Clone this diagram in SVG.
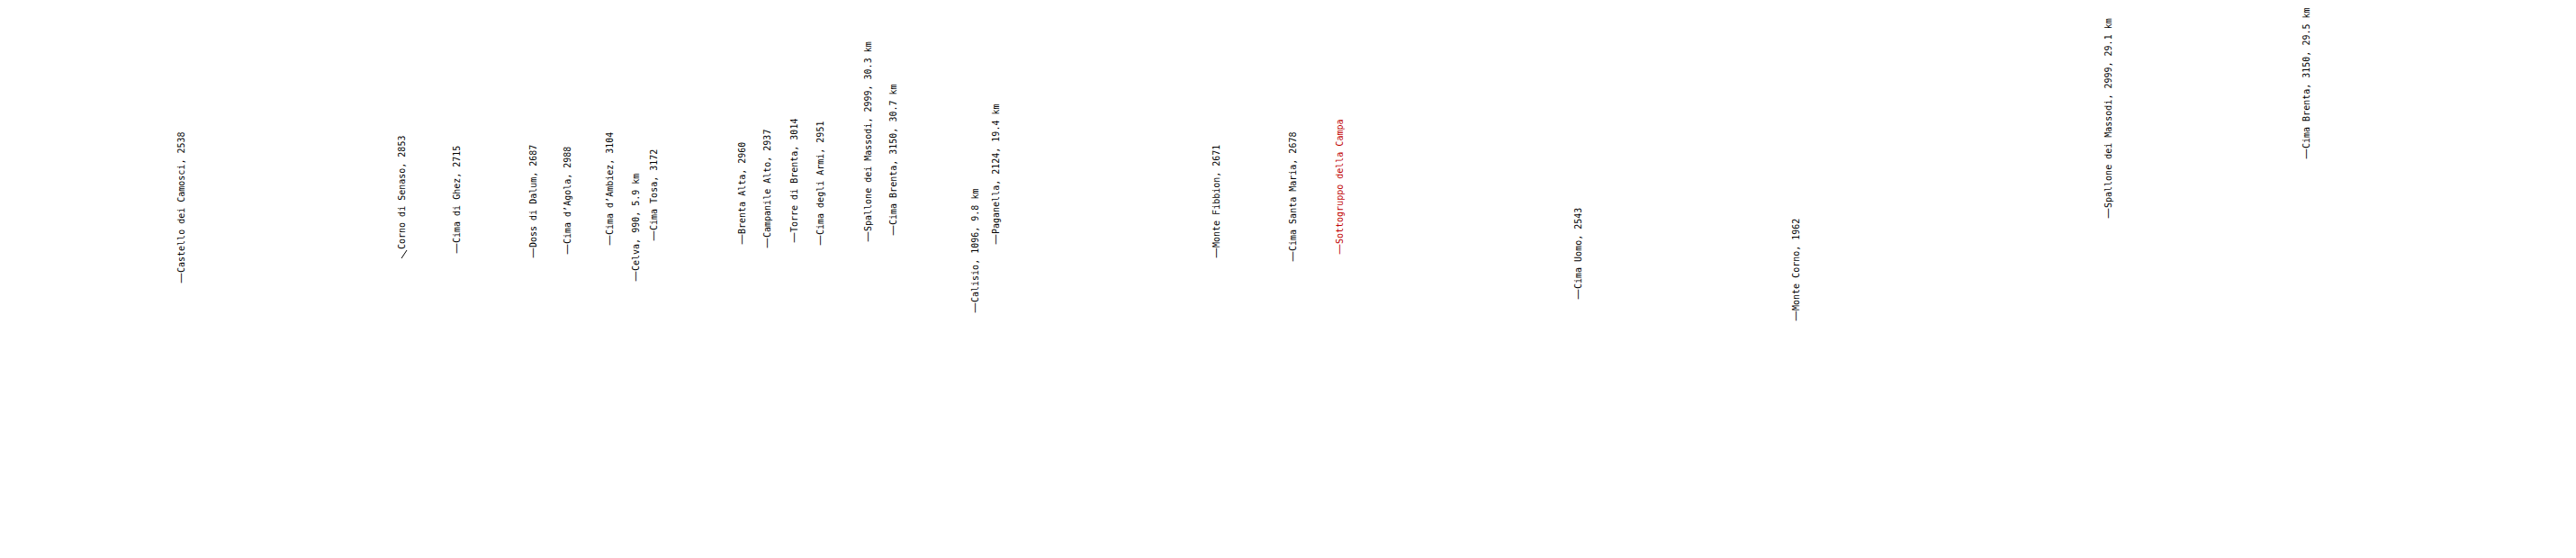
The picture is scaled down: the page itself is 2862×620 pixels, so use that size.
<svg xmlns="http://www.w3.org/2000/svg" width="2862" height="620" viewBox="0 0 2862 620">
<style>
text{font-family:"DejaVu Sans Mono","Liberation Mono",monospace;font-size:10px;fill:#000}
text.red{fill:#c00000}
tspan.d{font-family:"DejaVu Sans",sans-serif;font-size:12px}
</style>
<rect width="2862" height="620" fill="#fff"/>
<g id="castello"><text transform="translate(204.5,315) rotate(-90)"><tspan class="d">—</tspan>Castello dei Camosci, 2538</text></g>
<g id="corno-senaso"><line x1="446" y1="287" x2="452" y2="278" stroke="#000"/><text transform="translate(450,277) rotate(-90)">Corno di Senaso, 2853</text></g>
<g id="ghez"><text transform="translate(511,282) rotate(-90)"><tspan class="d">—</tspan>Cima di Ghez, 2715</text></g>
<g id="dalum"><text transform="translate(596,287) rotate(-90)"><tspan class="d">—</tspan>Doss di Dalum, 2687</text></g>
<g id="agola"><text transform="translate(634,283) rotate(-90)"><tspan class="d">—</tspan>Cima d’Agola, 2988</text></g>
<g id="ambiez"><text transform="translate(681,273) rotate(-90)"><tspan class="d">—</tspan>Cima d’Ambiez, 3104</text></g>
<g id="celva"><text transform="translate(710,313) rotate(-90)"><tspan class="d">—</tspan>Celva, 990, 5.9 km</text></g>
<g id="tosa"><text transform="translate(730,268) rotate(-90)"><tspan class="d">—</tspan>Cima Tosa, 3172</text></g>
<g id="brenta-alta"><text transform="translate(828,272) rotate(-90)"><tspan class="d">—</tspan>Brenta Alta, 2960</text></g>
<g id="campanile-alto"><text transform="translate(856,276) rotate(-90)"><tspan class="d">—</tspan>Campanile Alto, 2937</text></g>
<g id="torre-brenta"><text transform="translate(886,270) rotate(-90)"><tspan class="d">—</tspan>Torre di Brenta, 3014</text></g>
<g id="armi"><text transform="translate(915,273) rotate(-90)"><tspan class="d">—</tspan>Cima degli Armi, 2951</text></g>
<g id="spallone-1"><text transform="translate(968,269) rotate(-90)"><tspan class="d">—</tspan>Spallone dei Massodi, 2999, 30.3 km</text></g>
<g id="brenta-1"><text transform="translate(996,262) rotate(-90)"><tspan class="d">—</tspan>Cima Brenta, 3150, 30.7 km</text></g>
<g id="calisio"><text transform="translate(1087,348) rotate(-90)"><tspan class="d">—</tspan>Calisio, 1096, 9.8 km</text></g>
<g id="paganella"><text transform="translate(1110,272) rotate(-90)"><tspan class="d">—</tspan>Paganella, 2124, 19.4 km</text></g>
<g id="fibbion"><text transform="translate(1355,287) rotate(-90)"><tspan class="d">—</tspan>Monte Fibbion, 2671</text></g>
<g id="santa-maria"><text transform="translate(1440,291) rotate(-90)"><tspan class="d">—</tspan>Cima Santa Maria, 2678</text></g>
<g id="campa"><text class="red" transform="translate(1492,283) rotate(-90)"><tspan class="d">—</tspan>Sottogruppo della Campa</text></g>
<g id="uomo"><text transform="translate(1757,333) rotate(-90)"><tspan class="d">—</tspan>Cima Uomo, 2543</text></g>
<g id="corno"><text transform="translate(1999,357) rotate(-90)"><tspan class="d">—</tspan>Monte Corno, 1962</text></g>
<g id="spallone-2"><text transform="translate(2346,243) rotate(-90)"><tspan class="d">—</tspan>Spallone dei Massodi, 2999, 29.1 km</text></g>
<g id="brenta-2"><text transform="translate(2566,177) rotate(-90)"><tspan class="d">—</tspan>Cima Brenta, 3150, 29.5 km</text></g>
<g id="connectors"></g>
</svg>
